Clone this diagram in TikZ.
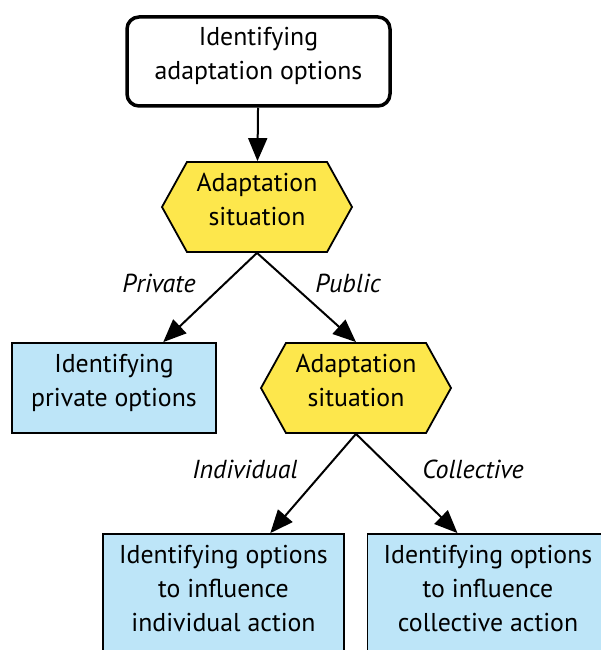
\documentclass[tikz,border=0pt]{standalone}
\usepackage{fontspec}
\setmainfont{PT Sans}
\usetikzlibrary{arrows.meta,shapes.symbols}
\definecolor{sityellow}{RGB}{253,231,76}
\definecolor{optblue}{RGB}{189,229,248}
\tikzset{
	bigtext/.style={font=\fontsize{25.8}{34}\selectfont, text depth=16pt},
	startbox/.style={draw, line width=3.5pt, rounded corners=12pt, align=center, inner sep=0pt, bigtext},
	optbox/.style={draw, line width=1.8pt, fill=optblue, align=center, inner sep=0pt, bigtext},
	sitbox/.style={signal, signal to=west and east, signal pointer angle=122, draw, line width=1.8pt, fill=sityellow, align=center, minimum width=190pt, minimum height=90pt, inner sep=0pt, bigtext},
	choice/.style={font=\fontsize{26}{30}\selectfont\itshape},
	flow/.style={line width=2pt, -{Triangle[length=23pt,width=19pt]}}
}
\begin{document}
\begin{tikzpicture}[x=1pt, y=-1pt]
			%%%%% START %%%%%
			
			\clip (0, 0) rectangle (601, 650);
			
			\node[startbox, minimum width=263pt, minimum height=89pt] (start) at (258.5, 61.5) {Identifying\\adaptation options};
			
			\node[sitbox] (sitA) at (257, 207) {Adaptation\\situation};
			\node[sitbox] (sitB) at (356, 388) {Adaptation\\situation};
			
			\node[optbox, minimum width=204pt, minimum height=90pt] (private) at (114, 388) {Identifying\\private options};
			\node[optbox, minimum width=241pt, minimum height=118pt, text depth=10pt] (individual) at (223.5, 593) {Identifying options\\to influence\\individual action};
			\node[optbox, minimum width=241pt, minimum height=118pt, text depth=10pt] (collective) at (488, 593) {Identifying options\\to influence\\collective action};
			
			\draw[flow] (start) -- (sitA);
			\draw[flow] (sitA.south) -- (private.43);
			\draw[flow] (sitA.south) -- (sitB.north);
			\draw[flow] (sitB.south) -- (individual.52);
			\draw[flow] (sitB.south) -- (collective.117);
			
			\node[choice] (lprivate) at (159, 283) {Private};
			\node[choice] (lpublic) at (348, 283) {Public};
			\node[choice] (lindividual) at (245, 469) {Individual};
			\node[choice] (lcollective) at (473, 469) {Collective};
			
			%%%%% END %%%%%
\end{tikzpicture}
\end{document}
